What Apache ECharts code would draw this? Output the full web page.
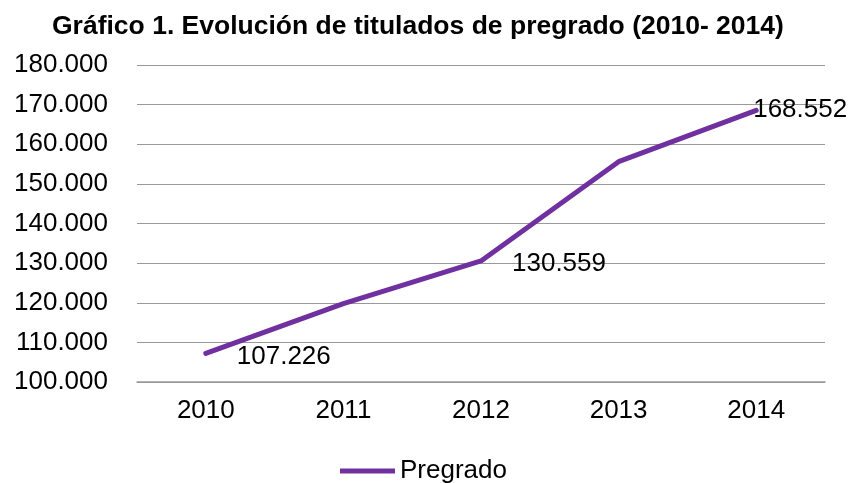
<!DOCTYPE html>
<html>
<head>
<meta charset="utf-8">
<script src="https://cdn.jsdelivr.net/npm/echarts@6/dist/echarts.min.js"></script>
<style>
  html, body { margin: 0; padding: 0; background: #fff; }
  #chart { width: 852px; height: 483px; }
</style>
</head>
<body>
<div id="chart"></div>
<script>
var years = ['2010', '2011', '2012', '2013', '2014'];
var pregrado = [107226, 119800, 130559, 155600, 168552];
var showLabel = [true, false, true, false, true];
var yTicks = [100000, 110000, 120000, 130000, 140000, 150000, 160000, 170000, 180000];

var font = '"Liberation Sans", Arial, sans-serif';

function miles(v) {
    return String(Math.round(v)).replace(/\B(?=(\d{3})+(?!\d))/g, '.');
}

var seriesData = [];
for (var i = 0; i < pregrado.length; i++) {
    var item = { value: pregrado[i] };
    if (showLabel[i]) {
        item.label = { show: true };
        // ultimo punto: etiqueta encima del extremo
        if (i === pregrado.length - 1) {
            item.label.offset = [-34, -1];
        } else {
            item.label.offset = [0, 3];
        }
    }
    seriesData.push(item);
}

var myChart = echarts.init(document.getElementById('chart'));
var option = {
    animation: false,
    title: {
        text: 'Gráfico 1. Evolución de titulados de pregrado (2010- 2014)',
        left: 47,
        top: 8,
        textStyle: {
            fontFamily: font,
            fontWeight: 'bold',
            fontSize: 26.5,
            color: '#000'
        }
    },
    legend: {
        left: 335,
        top: 453,
        icon: 'rect',
        itemWidth: 55,
        itemHeight: 5,
        itemGap: 4,
        textStyle: {
            fontFamily: font,
            fontSize: 26,
            color: '#000'
        },
        data: ['Pregrado']
    },
    grid: {
        left: 137,
        right: 27,
        top: 65,
        bottom: 101
    },
    xAxis: {
        type: 'category',
        data: years,
        axisTick: { show: false },
        axisLine: { lineStyle: { color: '#999', width: 1.5 } },
        axisLabel: {
            margin: 16,
            fontFamily: font,
            fontSize: 26,
            color: '#000'
        }
    },
    yAxis: {
        type: 'value',
        min: yTicks[0],
        max: yTicks[yTicks.length - 1],
        interval: 10000,
        axisLine: { show: false },
        axisTick: { show: false },
        splitLine: { lineStyle: { color: '#999', width: 1.2 } },
        axisLabel: {
            margin: 29,
            fontFamily: font,
            fontSize: 26,
            color: '#000',
            formatter: function (v) { return miles(v); }
        }
    },
    series: [{
        name: 'Pregrado',
        type: 'line',
        data: seriesData,
        symbol: 'circle',
        symbolSize: 0,
        showSymbol: true,
        lineStyle: { color: '#7030A0', width: 5, cap: 'round' },
        itemStyle: { color: '#7030A0' },
        label: {
            show: false,
            position: 'right',
            distance: 31,
            fontFamily: font,
            fontSize: 26,
            color: '#000',
            formatter: function (p) { return miles(p.value); }
        }
    }]
};
myChart.setOption(option);
</script>
</body>
</html>
